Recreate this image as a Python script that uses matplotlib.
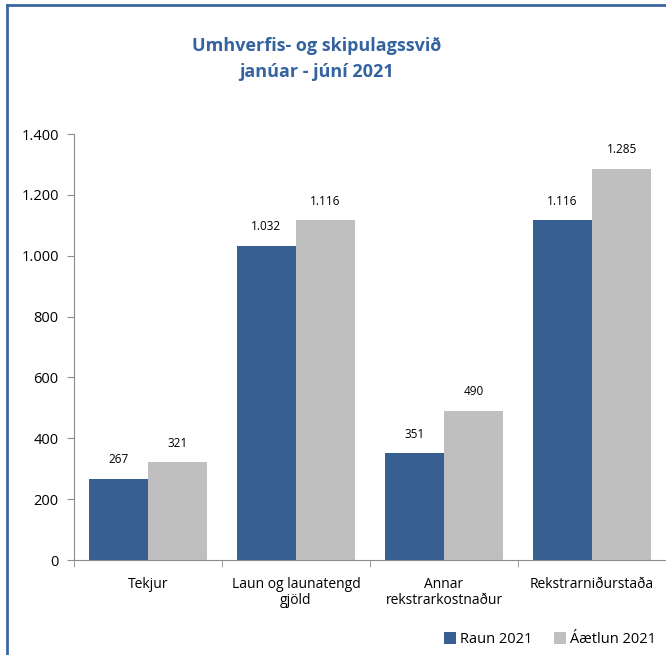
import matplotlib.pyplot as plt
from matplotlib.lines import Line2D
import numpy as np

flokkar = ['Tekjur', 'Laun og launatengd\ngjöld', 'Annar\nrekstrarkostnaður', 'Rekstrarniðurstaða']
raun = [267, 1032, 351, 1116]
aaetlun = [321, 1116, 490, 1285]
yticks = [0, 200, 400, 600, 800, 1000, 1200, 1400]

blar = '#375F92'
grar = '#BFBFBF'
fontur = ['Open Sans', 'DejaVu Sans']

plt.rcParams['font.family'] = fontur

fig = plt.figure(figsize=(6.66, 6.55), dpi=100)
ax = fig.add_axes([74 / 666, 95 / 655, 592 / 666, 426 / 655])

x = np.arange(len(flokkar))
b1 = ax.bar(x - 0.2, raun, width=0.4, color=blar, label='Raun 2021')
b2 = ax.bar(x + 0.2, aaetlun, width=0.4, color=grar, label='Áætlun 2021')

def fmt(v):
    return f'{v:,}'.replace(',', '.')

for bars, vals in ((b1, raun), (b2, aaetlun)):
    for r, v in zip(bars, vals):
        ax.annotate(fmt(v), (r.get_x() + r.get_width() / 2, v), xytext=(0, 9),
                    textcoords='offset points', ha='center', va='bottom', fontsize=8.5)

ax.set_xlim(-0.5, 3.5)
ax.set_ylim(0, 1400)
ax.set_yticks(yticks)
ax.set_yticklabels([fmt(t) for t in yticks], fontsize=10.5)
ax.set_xticks(x)
ax.set_xticklabels(flokkar, fontsize=10, linespacing=1.15)
ax.set_xticks(np.arange(-0.5, 3.6, 1), minor=True)
ax.tick_params(axis='x', which='major', length=0, pad=12)
ax.tick_params(axis='x', which='minor', length=5, color='#8C8C8C')
ax.tick_params(axis='y', length=5, color='#8C8C8C', pad=6)

for s in ('top', 'right'):
    ax.spines[s].set_visible(False)
ax.spines['left'].set_color('#8C8C8C')
ax.spines['bottom'].set_color('#8C8C8C')

fig.text(317 / 666, 1 - 59 / 655, 'Umhverfis- og skipulagssvið\njanúar - júní 2021',
         ha='center', va='center', fontsize=13, fontweight='bold', color='#3463A0',
         linespacing=1.6)

leg = fig.legend(loc='lower right', bbox_to_anchor=(1.005, -0.008), ncol=2, frameon=False,
                 fontsize=10.5, handlelength=0.8, handleheight=0.8, handletextpad=0.3,
                 columnspacing=1.5)

# rammi
rammi = '#3A66A0'
fig.add_artist(Line2D([7 / 666, 7 / 666], [0, 1 - 5 / 655], color=rammi, lw=2))
fig.add_artist(Line2D([7 / 666, 1], [1 - 5 / 655, 1 - 5 / 655], color=rammi, lw=2))

fig.savefig('out.png', dpi=100)
